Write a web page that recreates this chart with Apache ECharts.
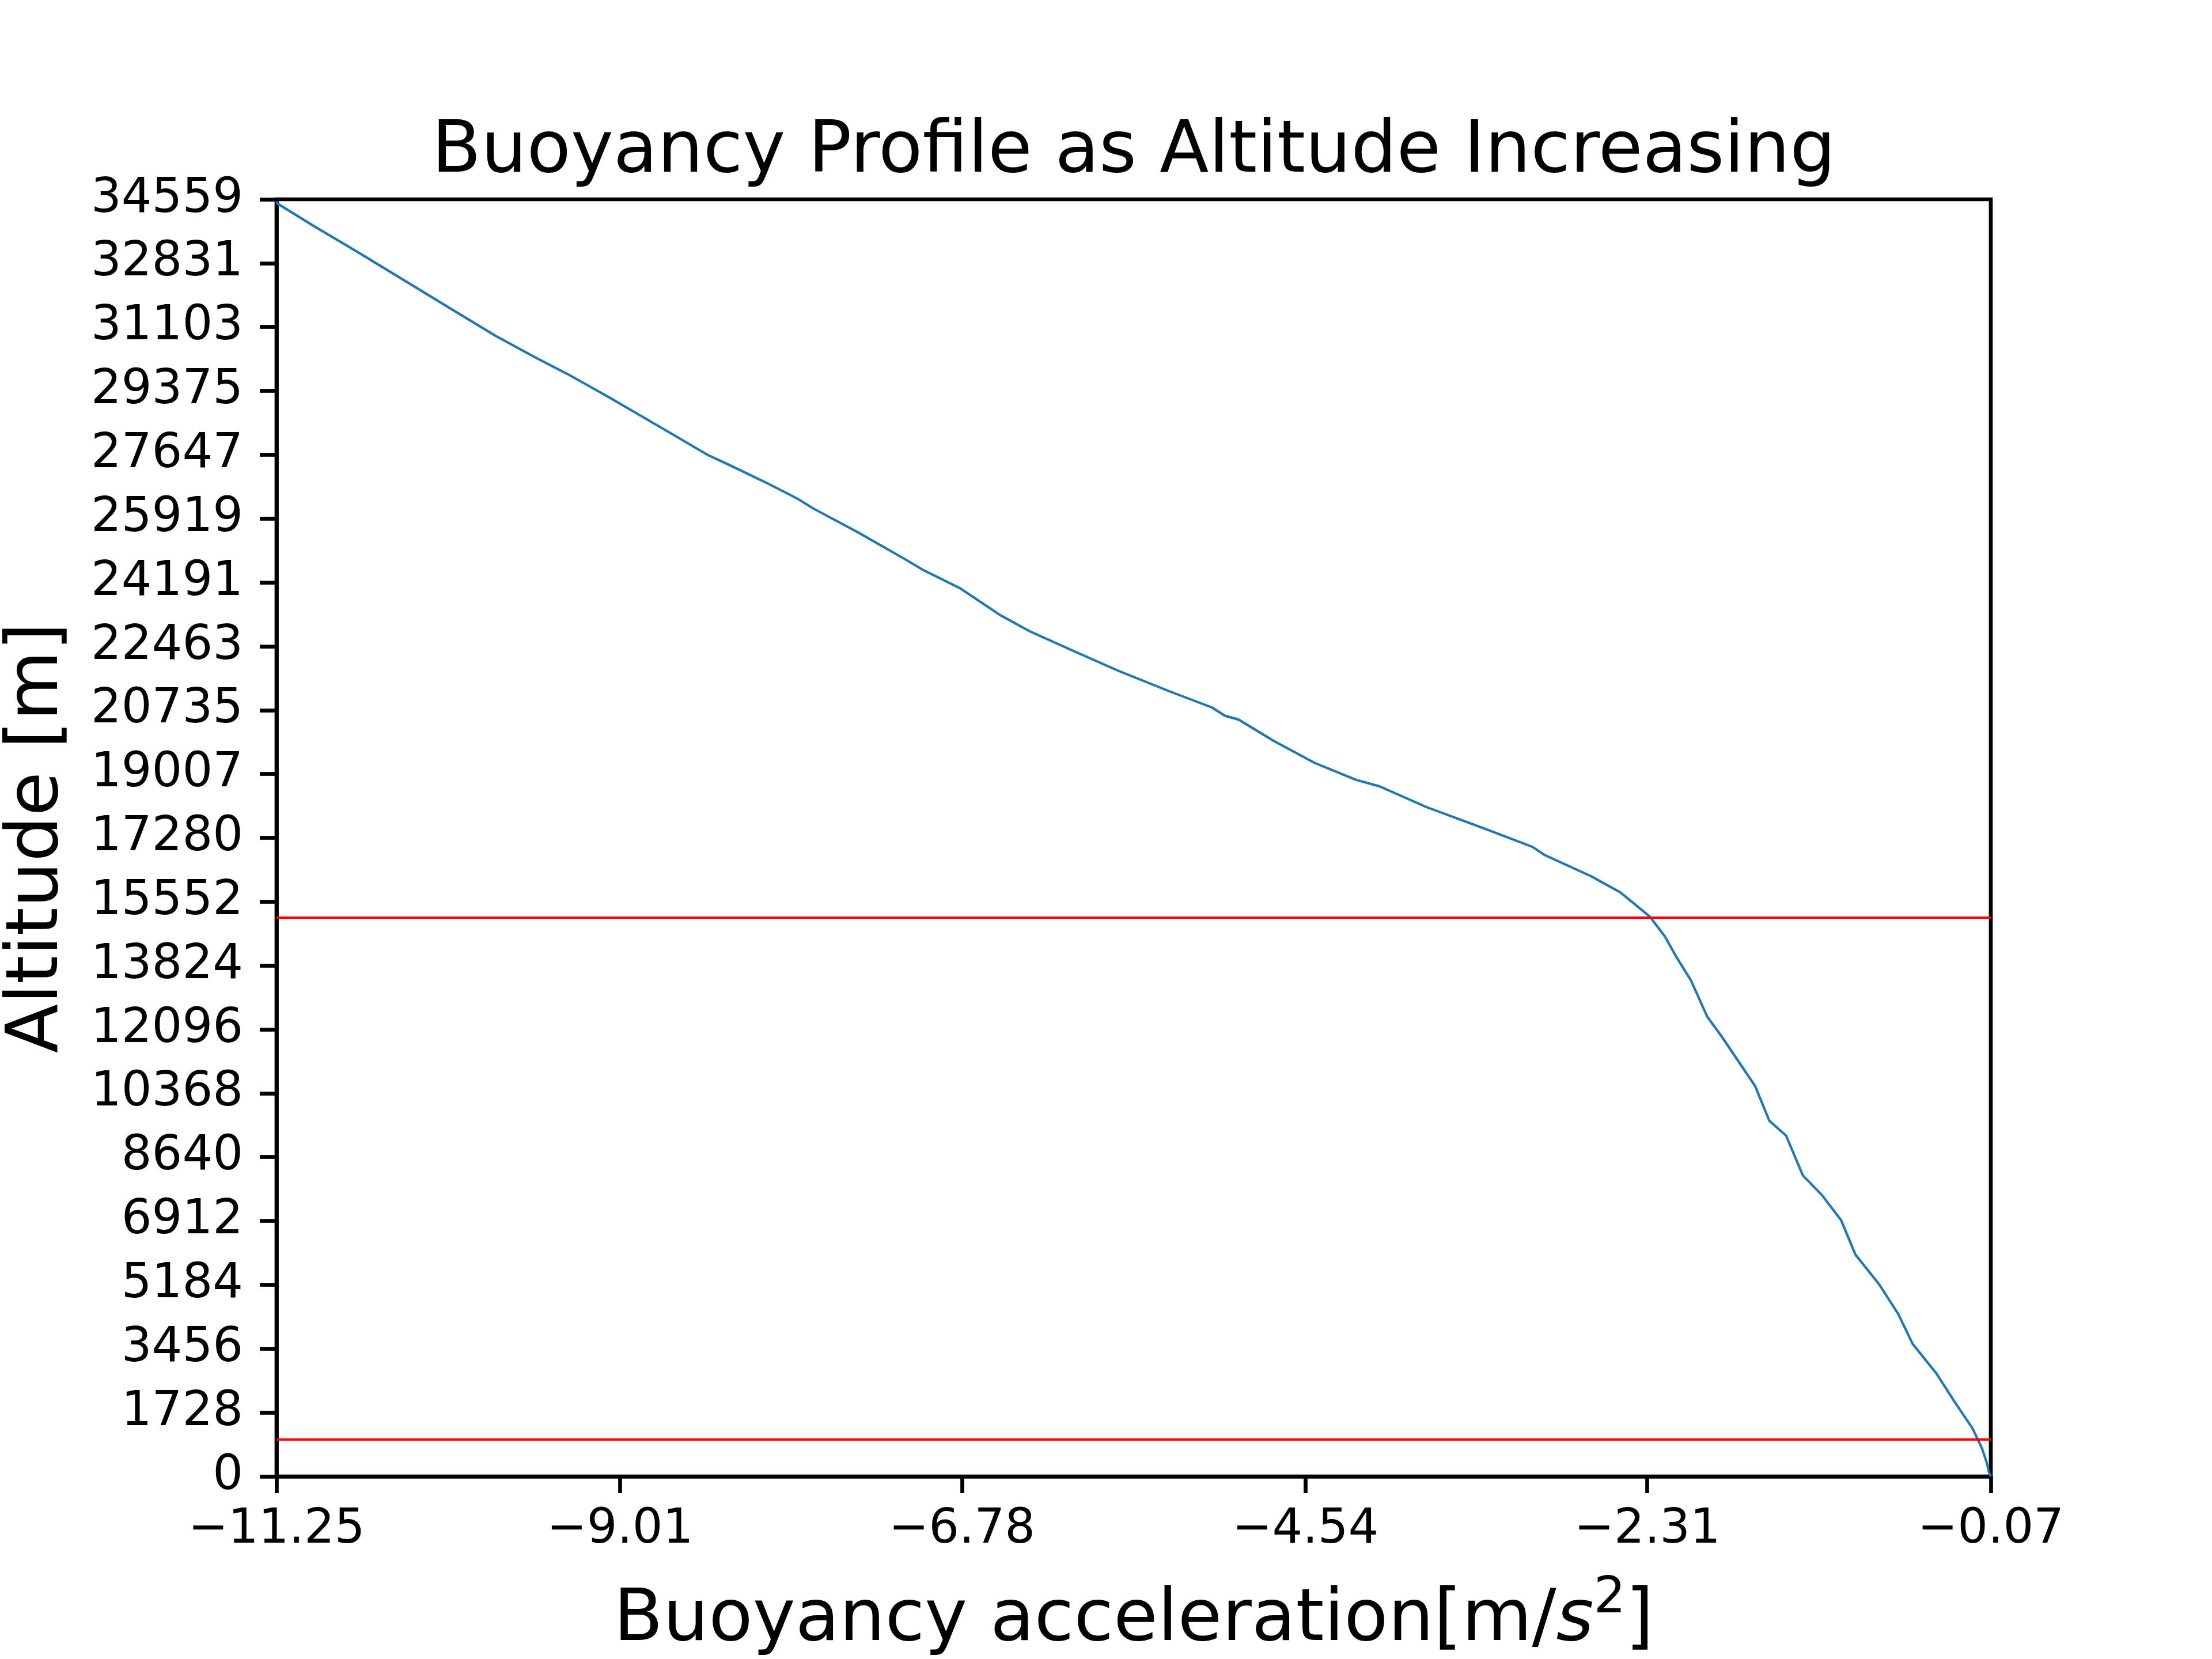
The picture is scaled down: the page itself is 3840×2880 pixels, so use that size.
<!DOCTYPE html>
<html>
<head>
<meta charset="utf-8">
<script src="https://cdn.jsdelivr.net/npm/echarts@6/dist/echarts.min.js"></script>
<style>
html,body{margin:0;padding:0;background:#fff;}
#c{width:3840px;height:2880px;}
</style>
</head>
<body>
<div id="c"></div>
<script>
// Buoyancy acceleration [m/s^2]
const accel = [-11.25, -11.244, -11.007, -10.728, -10.425, -10.123, -9.822, -9.563, -9.347, -9.067,
  -8.678, -8.441, -8.312, -8.053, -7.907, -7.846, -7.749, -7.458, -7.156, -7.028,
  -6.789, -6.532, -6.336, -6.056, -5.754, -5.431, -5.150, -5.064, -4.976, -4.747,
  -4.478, -4.210, -4.056, -3.750, -3.366, -3.060, -2.983, -2.677, -2.486, -2.294,
  -2.196, -2.121, -2.025, -1.919, -1.826, -1.717, -1.607, -1.514, -1.405, -1.296,
  -1.171, -1.047, -0.953, -0.798, -0.673, -0.580, -0.424, -0.299, -0.190, -0.128,
  -0.096, -0.081, -0.07];
// Altitude [m]
const altitude = [34500, 34444, 33836, 33150, 32387, 31623, 30866, 30283, 29820, 29167,
  28226, 27649, 27400, 26885, 26574, 26442, 26192, 25547, 24832, 24517,
  24026, 23311, 22865, 22344, 21790, 21253, 20808, 20582, 20481, 19904,
  19304, 18850, 18673, 18112, 17520, 17036, 16823, 16242, 15805, 15151,
  14613, 14060, 13421, 12439, 11909, 11239, 10563, 9623, 9221, 8147,
  7610, 6938, 6003, 5196, 4390, 3587, 2780, 1974, 1304, 767,
  365, 97, 0];
// Reference altitude lines [m]
const refLines = [15130, 1000];
// Tick labels
const xTicks = [-11.25, -9.01, -6.78, -4.54, -2.31, -0.07];
const yTicks = [0, 1728, 3456, 5184, 6912, 8640, 10368, 12096, 13824, 15552, 17280,
  19007, 20735, 22463, 24191, 25919, 27647, 29375, 31103, 32831, 34559];

const FONT = 'DejaVu Sans';
const chart = echarts.init(document.getElementById('c'), null, {renderer: 'canvas'});
const pts = accel.map((a, i) => [a, altitude[i]]);

chart.setOption({
  backgroundColor: '#ffffff',
  animation: false,
  title: {
    text: 'Buoyancy Profile as Altitude Increasing',
    left: 1968, top: 203, textAlign: 'center', padding: 0,
    textStyle: {fontFamily: FONT, fontSize: 125, lineHeight: 125, fontWeight: 'normal', color: '#000'}
  },
  grid: {left: 480, right: 384, top: 346, bottom: 317, show: true, borderColor: '#000', borderWidth: 6.7,
    containLabel: false, outerBoundsMode: 'none'},
  xAxis: {
    type: 'value', min: -11.25, max: -0.07,
    name: '{a|Buoyancy acceleration[m/}{i|s}{sup|2}{a|]}',
    nameLocation: 'middle', nameGap: 189,
    nameTextStyle: {
      fontFamily: FONT, color: '#000',
      rich: {
        a: {fontFamily: FONT, fontSize: 125, lineHeight: 125, color: '#000'},
        i: {fontFamily: FONT, fontSize: 125, lineHeight: 125, fontStyle: 'italic', color: '#000'},
        sup: {fontFamily: FONT, fontSize: 87, lineHeight: 49, height: 49, verticalAlign: 'top', color: '#000'}
      }
    },
    axisLine: {show: true, onZero: false, lineStyle: {color: '#000', width: 6.7}},
    axisTick: {show: true, inside: false, length: 29, lineStyle: {color: '#000', width: 6.7}, customValues: xTicks},
    axisLabel: {show: true, margin: 52, fontFamily: FONT, fontSize: 83, lineHeight: 83, color: '#000',
      customValues: xTicks,
      formatter: v => v.toFixed(2).replace('-', '\u2212')},
    splitLine: {show: false}
  },
  yAxis: {
    type: 'value', min: 0, max: 34559,
    name: 'Altitude [m]', nameLocation: 'middle', nameRotate: 90, nameGap: 351,
    nameTextStyle: {fontFamily: FONT, fontSize: 125, lineHeight: 125, color: '#000'},
    axisLine: {show: true, onZero: false, lineStyle: {color: '#000', width: 6.7}},
    axisTick: {show: true, inside: false, length: 29, lineStyle: {color: '#000', width: 6.7}, customValues: yTicks},
    axisLabel: {show: true, margin: 58, fontFamily: FONT, fontSize: 83, lineHeight: 83, color: '#000',
      customValues: yTicks, formatter: v => String(v)},
    splitLine: {show: false}
  },
  series: [{
    type: 'line', data: pts, showSymbol: false, symbol: 'none', smooth: false,
    lineStyle: {color: '#1f77b4', width: 4.2},
    silent: true, clip: true,
    markLine: {
      silent: true, symbol: 'none', label: {show: false},
      lineStyle: {color: '#ff0000', width: 4.2, type: 'solid'},
      emphasis: {disabled: true},
      data: refLines.map(v => ({yAxis: v}))
    },
    z: 3
  }]
});
</script>
</body>
</html>
